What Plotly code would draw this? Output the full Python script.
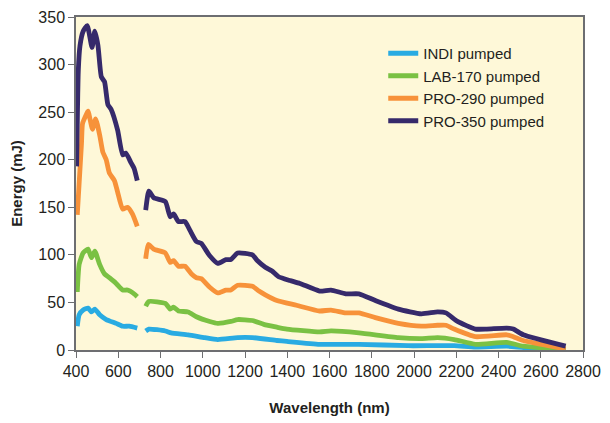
import plotly.graph_objects as go

# Wavelength (nm) / Energy (mJ); None marks the gap in the data
indi_x = [406, 415, 434, 457, 473, 489, 512, 543, 590, 621, 652, 690, None,
          730, 745, 823, 850, 931, 1009, 1071, 1165, 1235, 1351, 1398, 1553, 1739, 1972, 2190, 2291, 2439, 2520, 2718]
indi_y = [25, 37, 42, 44, 40, 43, 37, 32, 28, 25, 25, 23, None,
          20, 22, 20, 18, 16, 13, 11, 13, 13, 10, 9, 6, 6, 4.5, 4.5, 3, 4, 2.5, 0]

lab_x = [406, 415, 434, 457, 473, 489, 512, 535, 558, 590, 621, 644, 675, 690, None,
         730, 745, 823, 846, 862, 885, 931, 970, 1033, 1071, 1133, 1165, 1235, 1289, 1351, 1398,
         1553, 1607, 1739, 1926, 2035, 2112, 2190, 2291, 2439, 2517, 2718]
lab_y = [61, 90, 102, 106, 97, 104, 90, 80, 76, 70, 63, 63, 59, 56, None,
         46, 51, 49, 43, 45, 41, 40, 35, 30, 28, 30, 32, 31, 27, 24, 22,
         19, 20, 18, 13, 12, 13, 11, 6, 8, 4, 0.5]

p290_x = [406, 426, 431, 450, 457, 478, 493, 512, 527, 543, 558, 582, 597, 621, 644, 667, 690, None,
          730, 742, 768, 823, 846, 862, 885, 916, 947, 970, 993, 1033, 1071, 1110, 1133, 1165, 1235,
          1266, 1296, 1351, 1444, 1553, 1607, 1677, 1739, 1817, 1926, 2035, 2112, 2151, 2190,
          2291, 2439, 2470, 2517, 2718]
p290_y = [142, 217, 238, 248, 251, 232, 243, 226, 208, 200, 186, 178, 166, 148, 150, 143, 130, None,
          96, 111, 106, 102, 92, 94, 88, 88, 80, 76, 75, 66, 60, 63, 63, 68, 67,
          62, 58, 52, 47, 41, 42, 39, 39, 34, 28, 25, 26, 26, 22,
          14, 16, 14, 10, 1]

p350_x = [403, 411, 419, 434, 453, 476, 489, 504, 520, 535, 551, 566, 597, 621, 636, 660, 675, 690, None,
          730, 745, 768, 823, 846, 862, 885, 916, 939, 970, 993, 1033, 1071, 1110, 1133, 1165, 1235,
          1258, 1296, 1328, 1359, 1413, 1460, 1553, 1607, 1677, 1739, 1817, 1926, 2035, 2112, 2151,
          2206, 2291, 2345, 2439, 2470, 2517, 2718]
p350_y = [193, 294, 320, 335, 341, 318, 335, 320, 287, 282, 258, 253, 231, 205, 207, 197, 191, 178, None,
          147, 167, 160, 156, 140, 143, 135, 135, 126, 114, 112, 99, 91, 95, 95, 102, 100,
          94, 87, 83, 77, 73, 70, 62, 63, 59, 59, 52, 43, 38, 40, 39,
          30, 22, 22, 23, 22, 16, 4]

names = ["INDI pumped", "LAB-170 pumped", "PRO-290 pumped", "PRO-350 pumped"]
colors = ["#29ABE2", "#7AC143", "#F7923A", "#362A6B"]
xs = [indi_x, lab_x, p290_x, p350_x]
ys = [indi_y, lab_y, p290_y, p350_y]

x_ticks = list(range(400, 2801, 200))
y_ticks = list(range(0, 351, 50))

fig = go.Figure()
for name, color, x, y in zip(names, colors, xs, ys):
    fig.add_trace(go.Scatter(x=x, y=y, name=name, mode="lines",
                             line=dict(color=color, width=4.8, shape="spline", smoothing=0.5),
                             connectgaps=False))

font_family = "Liberation Sans Narrow, Arial Narrow, Liberation Sans, Arial, sans-serif"
fig.update_layout(
    width=610, height=423,
    margin=dict(l=76, r=19, t=9, b=72),
    paper_bgcolor="white",
    plot_bgcolor="#FEF8D8",
    font=dict(family=font_family, size=16, color="#231F20"),
    legend=dict(x=0.606, y=0.94, xanchor="left", yanchor="top",
                bgcolor="rgba(0,0,0,0)", font=dict(size=15),
                tracegroupgap=0, itemwidth=30),
    showlegend=True,
)
fig.update_xaxes(range=[400, 2800], tickvals=x_ticks, ticktext=[str(v) for v in x_ticks],
                 showgrid=False, zeroline=False, showline=True, linecolor="#6D6E71", linewidth=1.5,
                 mirror=True, ticks="outside", ticklen=6, tickcolor="#6D6E71",
                 title=dict(text="<b>Wavelength (nm)</b>", font=dict(size=15, family="Liberation Sans, Arial"), standoff=24))
fig.update_yaxes(range=[0, 350], tickvals=y_ticks, ticktext=[str(v) for v in y_ticks],
                 showgrid=False, zeroline=False, showline=True, linecolor="#6D6E71", linewidth=1.5,
                 mirror=True, ticks="outside", ticklen=6, tickcolor="#6D6E71",
                 title=dict(text="<b>Energy (mJ)</b>", font=dict(size=15, family="Liberation Sans, Arial"), standoff=12))

fig.write_html("out.html")
